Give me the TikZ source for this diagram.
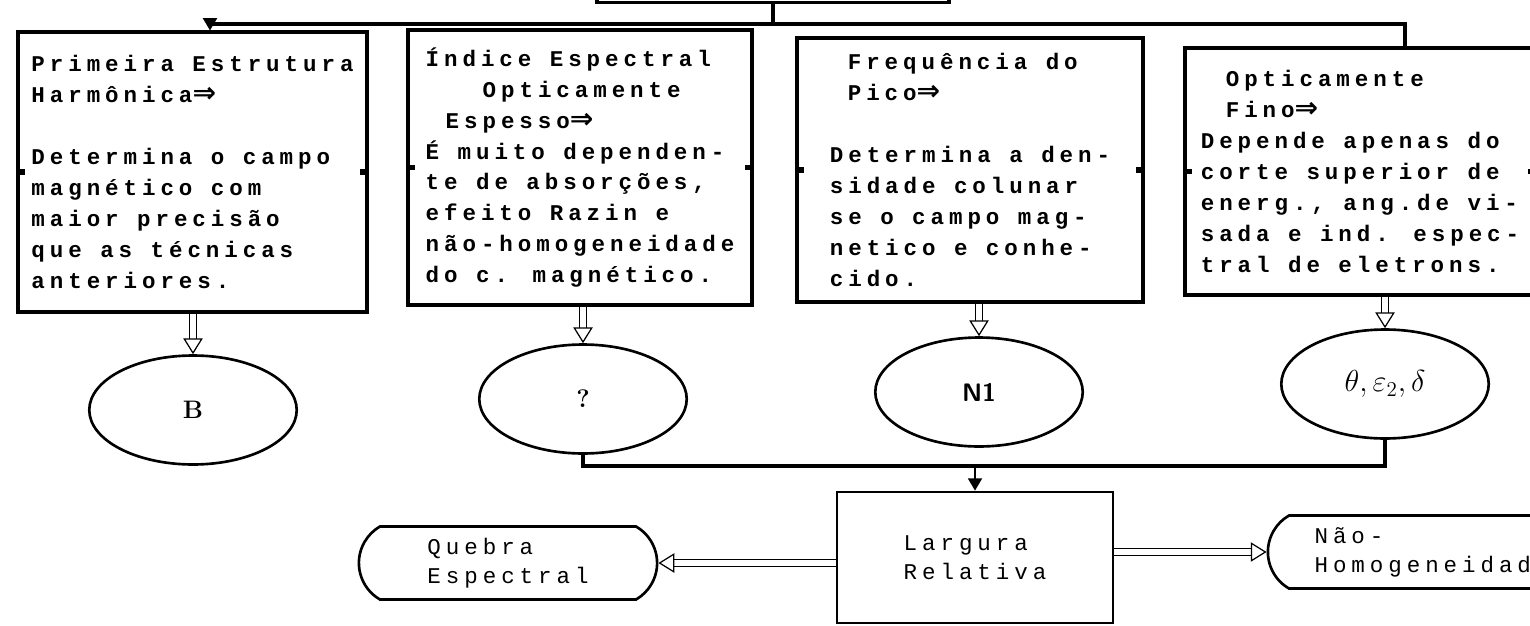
\documentclass[tikz,border=0pt]{standalone}
\usepackage{fontspec}
\newfontfamily\dotfont[LetterSpace=22]{Liberation Mono}
\newfontfamily\symfont{DejaVu Sans}
\usetikzlibrary{arrows.meta,shapes.geometric,shapes.misc}
\newcommand{\dar}{{\symfont\bfseries\fontsize{16}{17.6}\selectfont ⇒}}

\begin{document}
\begin{tikzpicture}[x=0.02cm, y=-0.02cm,
    box/.style={rectangle, draw, line width=1.8pt, align=left, inner sep=0pt,
      font=\dotfont\bfseries\fontsize{12.8}{17.6}\selectfont},
    plainbox/.style={rectangle, draw, line width=1.6pt, align=left, inner sep=0pt,
      font=\dotfont\fontsize{12.8}{16.5}\selectfont},
    oval/.style={ellipse, draw, line width=1.5pt, minimum width=4.15cm, minimum height=2.18cm, inner sep=0pt,
      font=\bfseries\Large},
    term/.style={rounded rectangle, rounded rectangle arc length=120, draw, line width=1.5pt,
      align=left, minimum height=1.46cm, font=\dotfont\fontsize{12.8}{16.5}\selectfont},
    link/.style={draw, line width=2.4pt},
    drop/.style={draw, line width=1pt, -{Triangle[width=8pt,length=7pt]}},
    dbl/.style={double, double distance=3.2pt, line width=0.7pt, -{Triangle[open, width=11pt, length=9pt]}},
    stub/.style={line width=3pt}
]
    \useasboundingbox (0,0) rectangle (1530,625);
    \clip (0,0) rectangle (1530,625);

    % upper row
    \node [box, minimum width=7.04cm, minimum height=1.7cm] (top) at (773,-40) {};
    \node [box, minimum width=6.98cm, minimum height=5.6cm] (b1) at (192.5,172)
      {Primeira Estrutura\\Harmônica\dar\\[17.6pt]Determina o campo\\magnético com\\maior precisão\\que as técnicas\\anteriores.};
    \node [box, minimum width=6.88cm, minimum height=5.5cm] (b2) at (580,167.5)
      {Índice Espectral\\\hspace*{1.14cm}Opticamente\\\hspace*{0.4cm}Espesso\dar\\É muito dependen-\\te de absorções,\\efeito Razin e\\não-homogeneidade\\do c. magnético.};
    \node [box, minimum width=6.92cm, minimum height=5.28cm] (b3) at (970,170)
      {\hspace*{0.36cm}Frequência do\\\hspace*{0.36cm}Pico\dar\\[17.6pt]Determina a den-\\sidade colunar\\se o campo mag-\\netico e conhe-\\cido.};
    \node [box, minimum width=7cm, minimum height=4.94cm] (b4) at (1360,171.5)
      {\hspace*{0.5cm}Opticamente\\\hspace*{0.5cm}Fino\dar\\Depende apenas do\\corte superior de\\energ., ang.de vi-\\sada e ind. espec-\\tral de eletrons.};
    \foreach \b in {b1,b2,b3,b4} {
      \draw [stub] (\b.west) -- ++(9,0);
      \draw [stub] (\b.east) -- ++(-9,0);
    }

    \coordinate (tb) at (773,24);
    \coordinate (bl) at (210,24);
    \coordinate (br) at (1405,24);
    \draw [link] (top.south) -- (tb);
    \draw [link] (bl) -- (br) -- (br |- b4.north);
    \draw [drop] (bl) -- (bl |- b1.north);

    % results
    \node [oval] (e1) at (193,410) {B};
    \node [oval] (e2) at (583,399) {?};
    \node [oval] (e3) at (979,392) {\sffamily N1};
    \node [oval] (e4) at (1385,384) {\LARGE\mdseries$\theta,\varepsilon_2,\delta$};
    \foreach \b/\e in {b1/e1,b2/e2,b3/e3,b4/e4}
      \draw [dbl] (\b.south -| \e.north) -- (\e.north);

    % lower row
    \coordinate (jn) at (975,466);
    \draw [link] (e2.south) |- (jn) -| (e4.south);
    \node [plainbox, minimum width=5.52cm, minimum height=2.62cm] (larg) at (975,557.5) {Largura\\Relativa};
    \draw [drop] (jn) -- (larg.north);
    \node [term, minimum width=6.2cm] (qb) at (508,563) {Quebra\\Espectral};
    \node [term, minimum width=6.8cm] (nh) at (1432,552) {Não-\\Homogeneidade};
    \draw [dbl] (larg.west |- qb.east) -- (qb.east);
    \draw [dbl] (larg.east |- nh.west) -- (nh.west);
\end{tikzpicture}
\end{document}
